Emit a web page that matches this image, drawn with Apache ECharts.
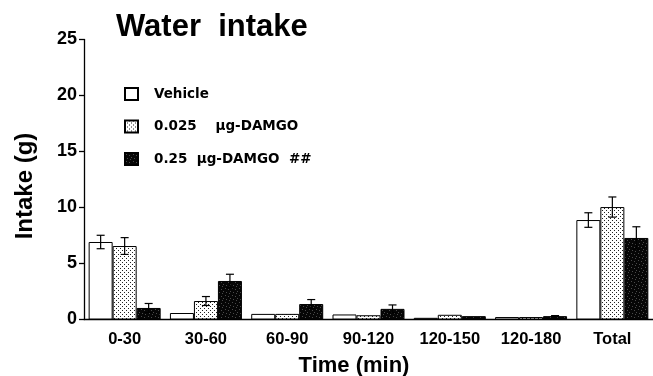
<!DOCTYPE html>
<html>
<head>
<meta charset="utf-8">
<script src="https://cdn.jsdelivr.net/npm/echarts@6/dist/echarts.min.js"></script>
<style>html,body{margin:0;padding:0;background:#fff;}#c{width:653px;height:376px;}</style>
</head>
<body>
<div id="c"></div>
<script>
const categories = ['0-30', '30-60', '60-90', '90-120', '120-150', '120-180', 'Total'];
const seriesNames = ['Vehicle', '0.025    µg-DAMGO', '0.25  µg-DAMGO  ##'];
const vehicle = [6.92, 0.58, 0.5, 0.45, 0.15, 0.22, 8.88];
const damgo025 = [6.56, 1.65, 0.5, 0.38, 0.42, 0.22, 10.04];
const damgo25 = [1.03, 3.44, 1.38, 0.95, 0.3, 0.3, 7.28];
const vehicleSem = [0.6, 0, 0, 0, 0, 0, 0.65];
const damgo025Sem = [0.75, 0.4, 0, 0, 0, 0, 0.9];
const damgo25Sem = [0.4, 0.6, 0.4, 0.35, 0, 0.05, 1.0];
const yTicks = [0, 5, 10, 15, 20, 25];

function dotPattern() {
  const c = document.createElement('canvas');
  c.width = 4; c.height = 4;
  const g = c.getContext('2d');
  g.fillStyle = '#fff'; g.fillRect(0, 0, 4, 4);
  g.fillStyle = '#222';
  g.fillRect(0, 0, 1, 1); g.fillRect(2, 2, 1, 1);
  return c;
}
function darkPattern() {
  const c = document.createElement('canvas');
  c.width = 7; c.height = 7;
  const g = c.getContext('2d');
  g.fillStyle = '#060606'; g.fillRect(0, 0, 7, 7);
  g.fillStyle = '#4a4a4a';
  [[1,1],[4,2],[2,5],[6,4],[5,6]].forEach(p => g.fillRect(p[0], p[1], 1, 1));
  return c;
}
const fills = ['#ffffff', {image: dotPattern(), repeat: 'repeat'}, {image: darkPattern(), repeat: 'repeat'}];
const means = [vehicle, damgo025, damgo25];
const sems = [vehicleSem, damgo025Sem, damgo25Sem];
const BAR_W = 24;

const barSeries = means.map((arr, k) => ({
  name: seriesNames[k],
  type: 'bar',
  data: arr,
  barWidth: BAR_W,
  barGap: '0%',
  itemStyle: {color: fills[k], borderColor: '#000', borderWidth: 1},
  emphasis: {disabled: true},
  z: 2
}));

const errSeries = means.map((arr, k) => ({
  type: 'custom',
  silent: true,
  z: 5,
  data: arr.map((m, i) => [i, m, sems[k][i]]),
  renderItem: function (params, api) {
    const i = api.value(0), m = api.value(1), s = api.value(2);
    if (!s) return;
    const off = (k - 1) * BAR_W;
    const hi = api.coord([i, m + s]);
    const lo = api.coord([i, m - s]);
    const x = hi[0] + off;
    const cw = 4;
    const st = {stroke: '#000', lineWidth: 1.2};
    return {
      type: 'group',
      children: [
        {type: 'line', shape: {x1: x, y1: hi[1], x2: x, y2: lo[1]}, style: st},
        {type: 'line', shape: {x1: x - cw, y1: hi[1], x2: x + cw, y2: hi[1]}, style: st},
        {type: 'line', shape: {x1: x - cw, y1: lo[1], x2: x + cw, y2: lo[1]}, style: st}
      ]
    };
  }
}));

const chart = echarts.init(document.getElementById('c'), null, {renderer: 'canvas'});
chart.setOption({
  animation: false,
  backgroundColor: '#fff',
  grid: {left: 84, top: 39.5, bottom: 56.5, right: -12, containLabel: false},
  legend: {
    orient: 'vertical',
    left: 119, top: 82,
    itemWidth: 13, itemHeight: 12, itemGap: 18.5,
    icon: 'rect',
    selectedMode: false,
    data: seriesNames,
    textStyle: {fontFamily: 'DejaVu Sans', fontWeight: 'bold', fontSize: 13.5, color: '#000', lineHeight: 12, padding: [0, 0, 0, 11]}
  },
  xAxis: {
    type: 'category',
    data: categories,
    axisLine: {lineStyle: {color: '#000', width: 1.3}},
    axisTick: {alignWithLabel: true, length: 6, lineStyle: {color: '#000', width: 1.3}},
    axisLabel: {color: '#000', fontFamily: 'Liberation Sans', fontWeight: 'bold', fontSize: 16.5, margin: 11}
  },
  yAxis: {
    type: 'value',
    min: yTicks[0], max: yTicks[yTicks.length - 1], interval: 5,
    splitLine: {show: false},
    axisLine: {show: true, lineStyle: {color: '#000', width: 1.3}},
    axisTick: {show: true, length: 5, lineStyle: {color: '#000', width: 1.3}},
    axisLabel: {color: '#000', fontFamily: 'Liberation Sans', fontWeight: 'bold', fontSize: 18, margin: 7}
  },
  graphic: [
    {type: 'text', left: 116, top: 12, style: {text: 'Water  intake', font: 'bold 31px "Liberation Sans"', fill: '#000'}},
    {type: 'text', x: 25, y: 186, rotation: Math.PI / 2, style: {text: 'Intake (g)', font: 'bold 24px "Liberation Sans"', fill: '#000', align: 'center', verticalAlign: 'middle'}},
    {type: 'text', x: 354, y: 366, style: {text: 'Time (min)', font: 'bold 22px "Liberation Sans"', fill: '#000', align: 'center', verticalAlign: 'middle'}}
  ],
  series: barSeries.concat(errSeries)
});
</script>
</body>
</html>
